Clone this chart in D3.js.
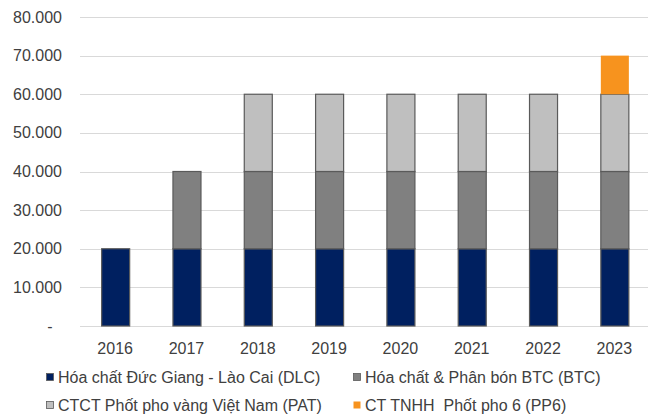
<!DOCTYPE html>
<html>
<head>
<meta charset="utf-8">
<script src="https://cdn.jsdelivr.net/npm/d3@7"></script>
<style>
 body { margin: 0; background: #fff; }
 text { font-family: "Liberation Sans", Arial, sans-serif; fill: #404040; }
</style>
</head>
<body>
<script>

// data
var years   = ['2016','2017','2018','2019','2020','2021','2022','2023']
var keys    = ['DLC','BTC','PAT','PP6']
var names   = ['Hóa chất Đức Giang - Lào Cai (DLC)',
               'Hóa chất & Phân bón BTC (BTC)',
               'CTCT Phốt pho vàng Việt Nam (PAT)',
               'CT TNHH  Phốt pho 6 (PP6)']
var dlc     = [20000,20000,20000,20000,20000,20000,20000,20000]
var btc     = [0,20000,20000,20000,20000,20000,20000,20000]
var pat     = [0,0,20000,20000,20000,20000,20000,20000]
var pp6     = [0,0,0,0,0,0,0,10000]
var yTicks  = [0,10000,20000,30000,40000,50000,60000,70000,80000]

var colors  = ['#002060','#808080','#bfbfbf','#f7931e']
var strokes = ['#5a5a5a','#5a5a5a','#5a5a5a','none']

var W = 656, H = 417
var svg = d3.select('body').append('svg').attr('width', W).attr('height', H)

var x = d3.scaleBand().domain(years).range([79.5, 650]).paddingInner(0.607).paddingOuter(0.3035)
var y = d3.scaleLinear().domain([0, 80000]).range([326, 17])

var table = years.map(function(yr, i) {
  return {year: yr, DLC: dlc[i], BTC: btc[i], PAT: pat[i], PP6: pp6[i]}
})
var series = d3.stack().keys(keys)(table)

// grid
svg.append('g').selectAll('line').data(yTicks).enter().append('line')
   .attr('x1', 80).attr('x2', 648)
   .attr('y1', function(d) { return Math.round(y(d)) + 0.5 })
   .attr('y2', function(d) { return Math.round(y(d)) + 0.5 })
   .attr('stroke', '#d9d9d9').attr('stroke-width', 1)

// y labels
var fmt = function(d) { return d === 0 ? '-' : d3.format(',')(d).replace(/,/g, '.') }
svg.append('g').selectAll('text').data(yTicks).enter().append('text')
   .attr('x', function(d) { return d === 0 ? 50 : 62 })
   .attr('y', function(d) { return y(d) })
   .attr('dy', '0.35em')
   .attr('text-anchor', function(d) { return d === 0 ? 'middle' : 'end' })
   .style('font-size', '16px')
   .text(fmt)

// bars
svg.append('g').selectAll('g').data(series).enter().append('g')
   .attr('fill', function(d, i) { return colors[i] })
   .attr('stroke', function(d, i) { return strokes[i] })
   .selectAll('rect').data(function(d) { return d.filter(function(p) { return p[1] > p[0] }) })
   .enter().append('rect')
   .attr('x', function(d) { return x(d.data.year) + 0.5 })
   .attr('width', x.bandwidth())
   .attr('y', function(d) { return y(d[1]) })
   .attr('height', function(d) { return y(d[0]) - y(d[1]) })
   .attr('stroke-width', 1.2)

// x labels
svg.append('g').selectAll('text').data(years).enter().append('text')
   .attr('x', function(d) { return x(d) + x.bandwidth() / 2 })
   .attr('y', 348).attr('dy', '0.35em')
   .attr('text-anchor', 'middle')
   .style('font-size', '16px')
   .text(function(d) { return d })

// legend, two columns
var lx = [46, 353], ly = [377, 405]
var leg = svg.append('g').selectAll('g').data(names).enter().append('g')
   .attr('transform', function(d, i) { return 'translate(' + lx[i % 2] + ',' + ly[Math.floor(i / 2)] + ')' })
leg.append('rect').attr('x', 0.5).attr('y', -3.5).attr('width', 7).attr('height', 7)
   .attr('fill', function(d, i) { return colors[i] })
   .attr('stroke', function(d, i) { return strokes[i] })
   .attr('stroke-width', 0.8)
leg.append('text').attr('x', 12).attr('dy', '0.35em')
   .style('font-size', '16px').style('white-space', 'pre')
   .text(function(d) { return d })

</script>
</body>
</html>
